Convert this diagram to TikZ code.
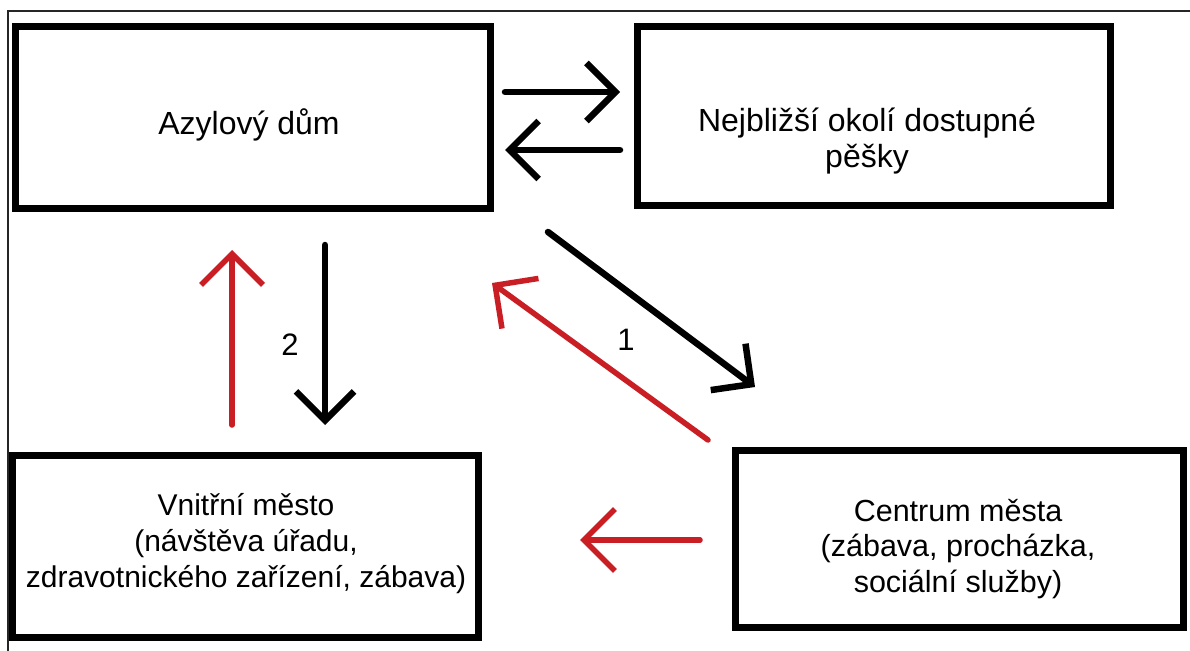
\documentclass[tikz,border=0pt]{standalone}
\usepackage{fontspec}
\setmainfont{Liberation Sans}
\usetikzlibrary{arrows.meta}
\definecolor{arrred}{RGB}{200,30,36}
\begin{document}
\begin{tikzpicture}[x=1pt,y=-1pt,
  box/.style={draw, line width=7pt, rectangle, inner sep=0pt},
  lbl/.style={align=center, inner sep=0pt},
  num/.style={font=\fontsize{31}{35}\selectfont, inner sep=0pt},
  blkarr/.style={line width=6.5pt, line cap=round, -{Straight Barb[length=29pt,width=58pt]}},
  redarr/.style={arrred, line width=5.5pt, line cap=round, -{Straight Barb[length=31pt,width=62pt]}}
]
\useasboundingbox (0,0) rectangle (1190,650);
% outer frame
\draw[line width=1.8pt, black!85] (8,652) -- (8,11) -- (1192,11);

% boxes
\node[box, minimum width=475pt, minimum height=181pt] (A) at (252.5,117.5) {};
\node[box, minimum width=473pt, minimum height=178pt] (N) at (873.5,116) {};
\node[box, minimum width=466pt, minimum height=182pt] (V) at (245,546) {};
\node[box, minimum width=448pt, minimum height=177pt] (C) at (959,538.5) {};

% texts
\node[lbl, font=\fontsize{32}{36}\selectfont] (tA) at (249,125) {Azylový dům};
\node[lbl, font=\fontsize{32}{36}\selectfont] (tN) at (867,141) {Nejbližší okolí dostupné\\pěšky};
\node[lbl, font=\fontsize{30}{36}\selectfont] (tV) at (246,544) {Vnitřní město\\(návštěva úřadu,\\zdravotnického zařízení, zábava)};
\node[lbl, font=\fontsize{30.5}{35.5}\selectfont] (tC) at (958,549) {Centrum města\\(zábava, procházka,\\sociální služby)};

% arrow end points
\coordinate (r1s) at (505,92);  \coordinate (r1e) at (620,92);
\coordinate (l1s) at (620,150); \coordinate (l1e) at (505,150);
\coordinate (ups) at (232,425); \coordinate (upe) at (232,250);
\coordinate (dns) at (325,245); \coordinate (dne) at (325,425);
\coordinate (dgs) at (548,232); \coordinate (dge) at (755,387);
\coordinate (rds) at (708,440); \coordinate (rde) at (492,283);
\coordinate (rls) at (700,540); \coordinate (rle) at (580,540);

\draw[blkarr] (r1s) -- (r1e);
\draw[blkarr] (l1s) -- (l1e);
\draw[redarr] (ups) -- (upe);
\draw[blkarr] (dns) -- (dne);
\draw[blkarr] (dgs) -- (dge);
\draw[redarr] (rds) -- (rde);
\draw[redarr] (rls) -- (rle);

% labels
\node[num] (n2) at (290,345) {2};
\node[num] (n1) at (626,340) {1};
\end{tikzpicture}
\end{document}
